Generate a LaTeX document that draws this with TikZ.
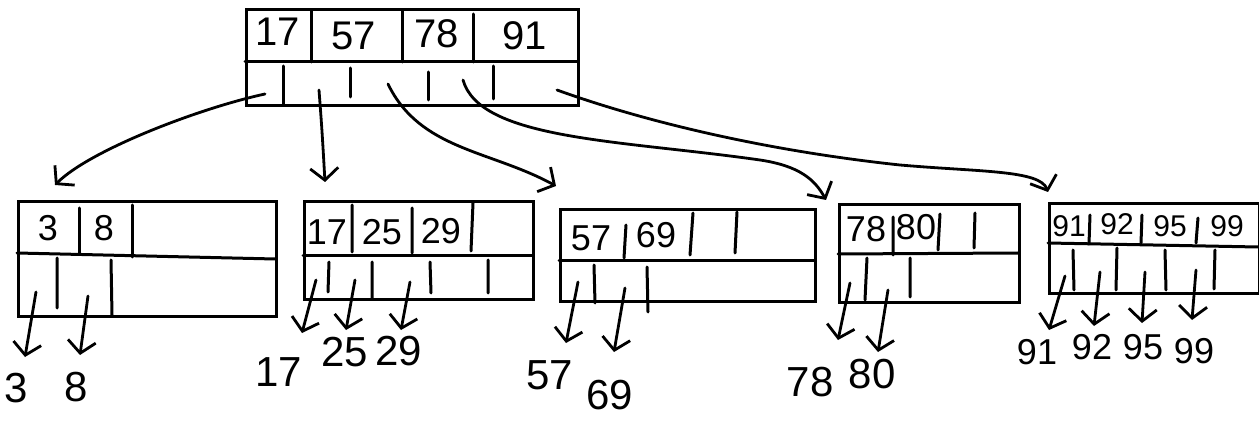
\documentclass[tikz,border=0pt]{standalone}
\usepackage{fontspec}
\setmainfont{Liberation Sans}
\usetikzlibrary{arrows.meta}
\begin{document}
\begin{tikzpicture}[x=1pt,y=-1pt,
  box/.style={draw,line width=3pt,anchor=north west,inner sep=0pt},
  ln/.style={line width=3pt,line cap=round},
  rkey/.style={font=\fontsize{40}{44}\selectfont,inner sep=0pt},
  lkey/.style={font=\fontsize{36}{40}\selectfont,inner sep=0pt},
  skey/.style={font=\fontsize{30}{34}\selectfont,inner sep=0pt},
  val/.style={font=\fontsize{42}{46}\selectfont,inner sep=0pt},
  sval/.style={font=\fontsize{36}{40}\selectfont,inner sep=0pt},
  ptr/.style={line width=2.8pt,line cap=round,-{Straight Barb[length=12pt,width=28pt,line width=2.8pt]}}]
\useasboundingbox (0,0) rectangle (1259,422);
% root
\node[box,minimum width=332,minimum height=96] (root) at (245,8) {};
\draw[ln] (245,62) -- (577,62);
\draw[ln] (311,10) -- (311,62) (402,10) -- (402,62) (473,14) -- (473,62);
\draw[ln] (283,66) -- (283,104) (350,68) -- (350,97) (428,72) -- (428,100) (493,66) -- (493,99);
\node[rkey] (r1) at (278,32) {17};
\node[rkey] (r2) at (354,36) {57};
\node[rkey] (r3) at (437,34) {78};
\node[rkey] (r4) at (525,36) {91};
\coordinate (p0) at (265,94);
\coordinate (p1) at (319,90);
\coordinate (p2) at (388,84);
\coordinate (p3) at (463,80);
\coordinate (p4) at (557,90);
% leaf 1
\node[box,minimum width=258,minimum height=115] (l1) at (17,200) {};
\draw[ln] (17,253) -- (275,259);
\draw[ln] (79,208) -- (79,253) (132,205) -- (132,257);
\draw[ln] (57,258) -- (57,308) (111,260) -- (112,315);
\node[lkey] (k11) at (48,228) {3};
\node[lkey] (k12) at (104,228) {8};
% leaf 2
\node[box,minimum width=229,minimum height=98] (l2) at (303,200) {};
\draw[ln] (303,256) -- (532,256);
\draw[ln] (352,205) -- (352,252) (412,208) -- (412,253) (473,203) -- (471,251);
\draw[ln] (329,262) -- (328,292) (372,262) -- (372,298) (430,262) -- (431,293) (488,260) -- (488,293);
\node[lkey] (k21) at (327,232) {17};
\node[lkey] (k22) at (382,232) {25};
\node[lkey] (k23) at (441,231) {29};
% leaf 3
\node[box,minimum width=255,minimum height=92] (l3) at (559,208) {};
\draw[ln] (559,261) -- (814,261);
\draw[ln] (626,225) -- (624,258) (693,213) -- (690,255) (737,212) -- (735,253);
\draw[ln] (594,265) -- (595,303) (647,267) -- (648,312);
\node[lkey] (k31) at (591,238) {57};
\node[lkey] (k32) at (656,235) {69};
% leaf 4
\node[box,minimum width=180,minimum height=98] (l4) at (838,203) {};
\draw[ln] (838,254) -- (1018,253);
\draw[ln] (893,217) -- (893,255) (940,214) -- (938,250) (975,213) -- (974,248);
\draw[ln] (867,258) -- (865,300) (910,258) -- (910,297);
\node[lkey] (k41) at (866,229) {78};
\node[lkey] (k42) at (916,227) {80};
% leaf 5
\node[box,minimum width=210,minimum height=90] (l5) at (1048,202) {};
\draw[ln] (1048,243) -- (1258,247);
\draw[ln] (1090,215) -- (1089,244) (1142,215) -- (1141,243) (1198,218) -- (1196,243);
\draw[ln] (1073,250) -- (1074,290) (1117,248) -- (1116,290) (1165,250) -- (1166,290) (1215,250) -- (1214,289);
\node[skey] (k51) at (1069,226) {91};
\node[skey] (k52) at (1117,224) {92};
\node[skey] (k53) at (1170,226) {95};
\node[skey] (k54) at (1227,226) {99};
% leaf values
\node[val] (v11) at (16,388) {3};
\node[val] (v12) at (76,387) {8};
\node[val] (v21) at (279,372) {17};
\node[val] (v22) at (345,352) {25};
\node[val] (v23) at (399,351) {29};
\node[val] (v31) at (550,375) {57};
\node[val] (v32) at (610,395) {69};
\node[val] (v41) at (810,382) {78};
\node[val] (v42) at (872,374) {80};
\node[sval] (v51) at (1037,352) {91};
\node[sval] (v52) at (1092,347) {92};
\node[sval] (v53) at (1143,347) {95};
\node[sval] (v54) at (1194,351) {99};
\coordinate (a11) at (36,292); \coordinate (a12) at (88,296);
\coordinate (a21) at (316,280); \coordinate (a22) at (355,280); \coordinate (a23) at (410,282);
\coordinate (a31) at (578,282); \coordinate (a32) at (625,288);
\coordinate (a41) at (850,283); \coordinate (a42) at (888,290);
\coordinate (a51) at (1065,276); \coordinate (a52) at (1100,272); \coordinate (a53) at (1145,272); \coordinate (a54) at (1196,270);
\coordinate (e11) at (25,357); \coordinate (e12) at (80,355);
\coordinate (e21) at (302,333); \coordinate (e22) at (346,330); \coordinate (e23) at (401,330);
\coordinate (e31) at (566,343); \coordinate (e32) at (614,352);
\coordinate (e41) at (838,340); \coordinate (e42) at (878,352);
\coordinate (e51) at (1049,330); \coordinate (e52) at (1094,326); \coordinate (e53) at (1142,323); \coordinate (e54) at (1192,320);
\foreach \i in {11,12,21,22,23,31,32,41,42,51,52,53,54}
  \draw[ptr] (a\i) -- (e\i);
% root connectors
\coordinate (t1) at (55,185);
\coordinate (t2) at (325,182);
\coordinate (t3) at (556,186);
\coordinate (t4) at (826,200);
\coordinate (t5) at (1048,192);
\draw[ptr] (p0) .. controls (200,108) and (90,150) .. (t1);
\draw[ptr] (p1) .. controls (322,130) .. (t2);
\draw[ptr] (p2) .. controls (420,150) and (490,150) .. (t3);
\draw[ptr] (p3) .. controls (480,140) and (620,140) .. (760,160) .. controls (800,166) and (815,180) .. (t4);
\draw[ptr] (p4) .. controls (640,120) and (760,150) .. (900,165) .. controls (980,172) and (1040,170) .. (t5);
\end{tikzpicture}
\end{document}
